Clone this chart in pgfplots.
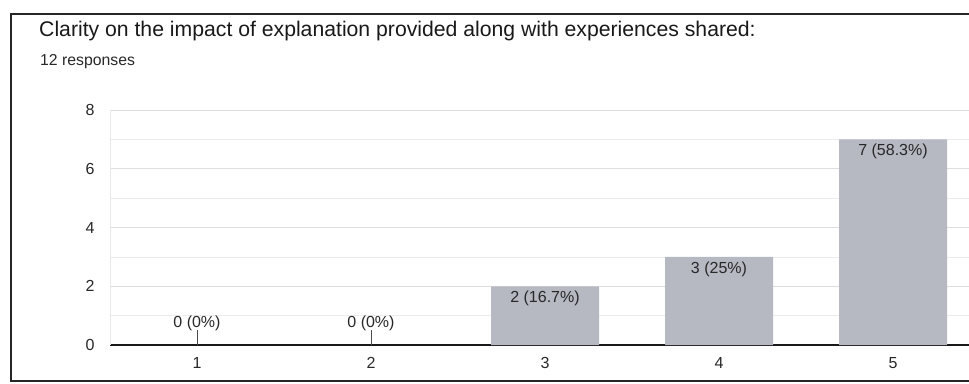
\documentclass[border=0pt]{standalone}
\usepackage{fontspec}
\setmainfont{Liberation Sans}
\usepackage{pgfplots}
\pgfplotsset{compat=1.18}
\definecolor{barc}{RGB}{182,184,194}
\definecolor{gridc}{RGB}{222,222,222}
\definecolor{txt}{RGB}{40,40,40}
\begin{document}
\begin{tikzpicture}[x=1pt,y=1pt]
\useasboundingbox (0,0) rectangle (969,383);
\clip (0,0) rectangle (969,383);
\fill[white] (0,0) rectangle (969,383);
\draw[line width=1.6pt, black!85] (11,2) rectangle (995,369);
\node[anchor=base west, font=\fontsize{21.2}{24}\selectfont, text=black!90, inner sep=0] at (39,346) {Clarity on the impact of explanation provided along with experiences shared:};
\node[anchor=base west, font=\fontsize{15.8}{18}\selectfont, text=txt, inner sep=0] at (40,317) {12 responses};
\begin{axis}[
  at={(110pt,38pt)}, anchor=south west,
  scale only axis, width=870pt, height=235pt,
  xmin=0.5, xmax=5.5, ymin=0, ymax=8,
  clip=false,
  axis x line*=bottom, axis y line*=left,
  x axis line style={black!90, line width=1.5pt},
  y axis line style={gridc!70, line width=0.6pt},
  xtick={1,2,3,4,5},
  ytick={0,2,4,6,8}, minor ytick={1,3,5,7},
  ymajorgrids, yminorgrids,
  major grid style={gridc, line width=0.8pt},
  minor grid style={gridc!60, line width=0.6pt},
  tick style={draw=none},
  /pgf/number format/assume math mode=true,
  tick label style={font=\fontsize{16}{18}\selectfont, text=txt},
  xticklabel style={yshift=-9pt},
  yticklabel style={xshift=-12pt},
]
\addplot[ybar, bar width=108pt, bar shift=0pt, fill=barc, draw=none,
  nodes near coords, point meta=explicit symbolic,
  nodes near coords align=below,
  every node near coord/.append style={font=\fontsize{16}{18}\selectfont, text=txt, yshift=-1pt}]
  coordinates {(3,2) [2 (16.7\%)] (4,3) [3 (25\%)] (5,7) [7 (58.3\%)]};
\addplot[ybar, bar width=108pt, bar shift=0pt, fill=none, draw=none,
  nodes near coords, point meta=explicit symbolic,
  nodes near coords align=above,
  every node near coord/.append style={font=\fontsize{16}{18}\selectfont, text=txt, yshift=11pt},
  error bars/.cd, y dir=plus, y fixed=0.5, error mark=none,
  error bar style={black!70, line width=0.8pt}]
  coordinates {(1,0) [0 (0\%)] (2,0) [0 (0\%)]};
\end{axis}
\end{tikzpicture}
\end{document}
